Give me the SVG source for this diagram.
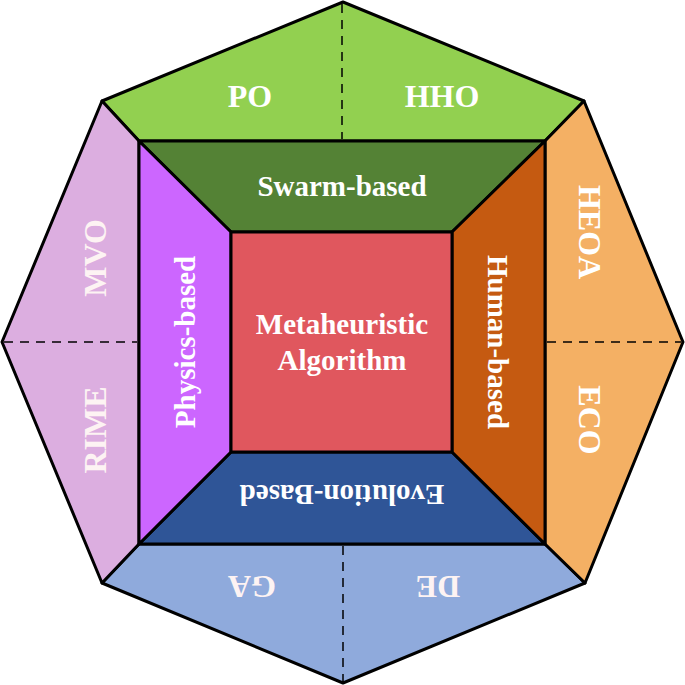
<svg xmlns="http://www.w3.org/2000/svg" width="685" height="685" viewBox="0 0 685 685">
<style>
.s{stroke:#000;stroke-width:3;stroke-linejoin:round}
.d{stroke:#000;stroke-width:1.5;stroke-dasharray:9,7;fill:none}
text{font-family:"Liberation Serif",serif;fill:#fff;text-anchor:middle;dominant-baseline:central;font-size:29px;font-weight:bold}
.L{font-size:32px}
.o{fill:#fdf3f3}
</style>
<rect width="685" height="685" fill="#fff"/>
<g id="outer-top"><polygon class="s" fill="#92d050" points="343,2 584,101 545,141 139,141 102,101"/></g>
<g id="outer-bottom"><polygon class="s" fill="#8faadc" points="343,683 585,583 545,544 139,544 102,583"/></g>
<g id="outer-left"><polygon class="s" fill="#dcaee0" points="102,101 139,141 139,544 102,583 2,342"/></g>
<g id="outer-right"><polygon class="s" fill="#f4b064" points="584,101 545,141 545,544 585,583 683,342"/></g>
<g id="swarm"><polygon class="s" fill="#548235" points="139,141 545,141 452,232 231,232"/><text x="342" y="186">Swarm-based</text></g>
<g id="evolution"><polygon class="s" fill="#2f5597" points="139,544 545,544 452,452 231,452"/><text transform="translate(342,495) rotate(180)">Evolution-Based</text></g>
<g id="physics"><polygon class="s" fill="#cc66ff" points="139,141 231,232 231,452 139,544"/><text transform="translate(185,342) rotate(-90)">Physics-based</text></g>
<g id="human"><polygon class="s" fill="#c55a11" points="545,141 452,232 452,452 545,544"/><text transform="translate(498,342) rotate(90)">Human-based</text></g>
<g id="center"><rect class="s" fill="#e0575e" x="231" y="232" width="221" height="220"/><text x="342" y="324">Metaheuristic</text><text x="342" y="360">Algorithm</text></g>
<g id="connectors">
<line class="d" x1="342" y1="4" x2="342" y2="139"/>
<line class="d" x1="343" y1="546" x2="343" y2="681"/>
<line class="d" x1="4" y1="342" x2="137" y2="342"/>
<line class="d" x1="547" y1="342" x2="681" y2="342"/>
</g>
<g id="labels">
<text class="L" x="250" y="96">PO</text><text class="L" x="442" y="96">HHO</text>
<text class="L o" transform="translate(252,587) rotate(180)">GA</text><text class="L o" transform="translate(438,587) rotate(180)">DE</text>
<text class="L o" transform="translate(95,258) rotate(-90)">MVO</text><text class="L o" transform="translate(95,430) rotate(-90)">RIME</text>
<text class="L" transform="translate(590,232) rotate(90)">HEOA</text><text class="L" transform="translate(590,420) rotate(90)">ECO</text>
</g>
</svg>
